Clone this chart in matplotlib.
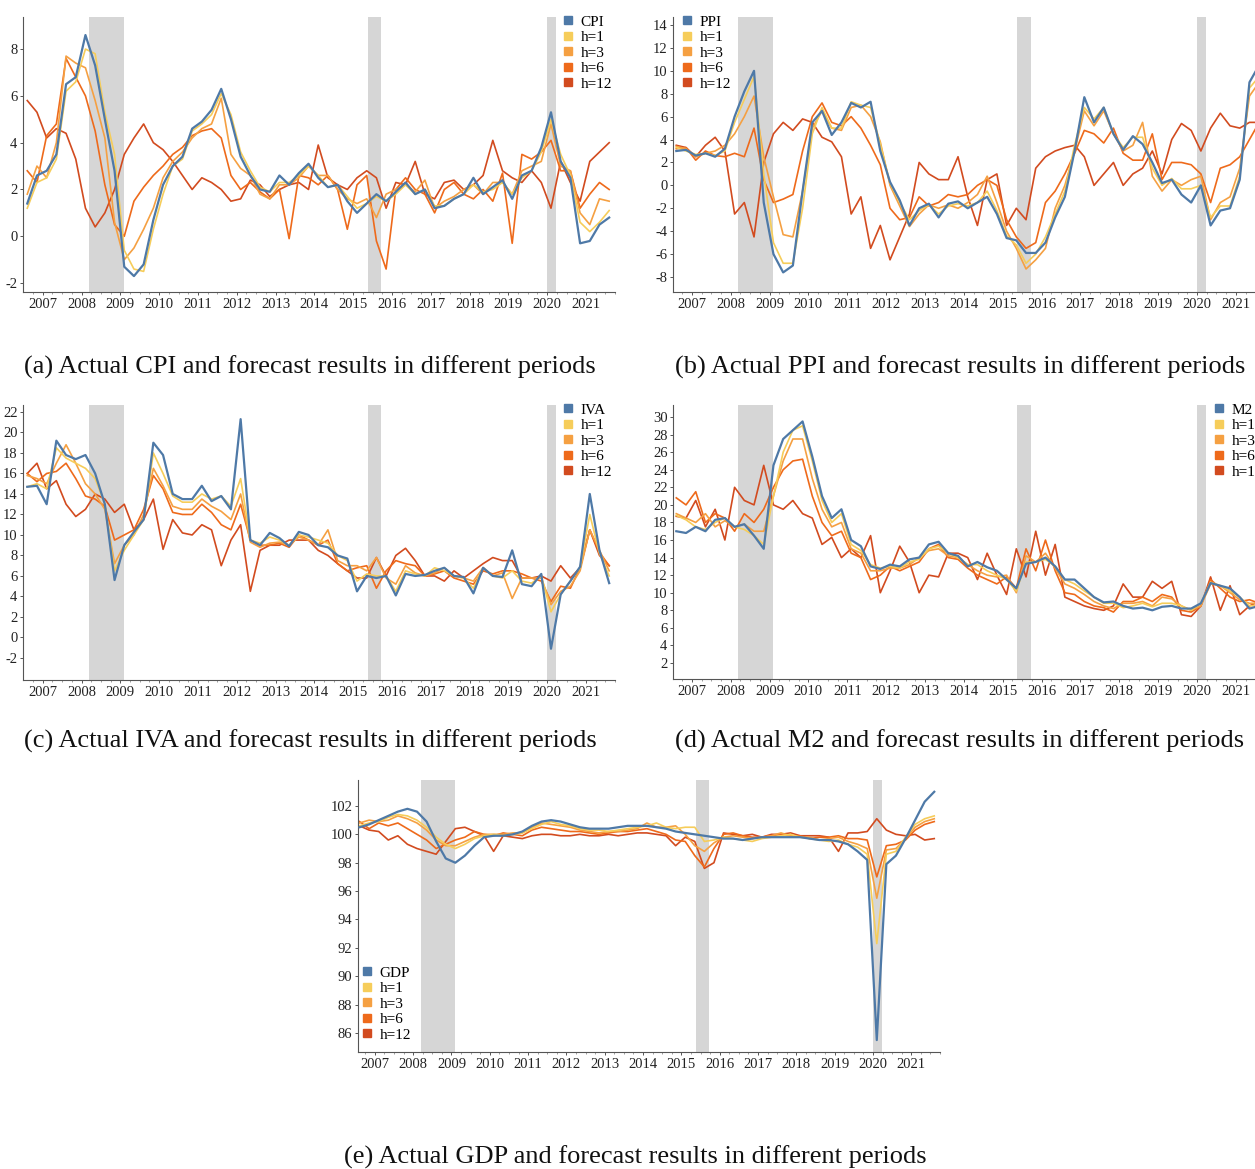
import matplotlib
matplotlib.use('Agg')
import matplotlib.pyplot as plt
from matplotlib.lines import Line2D
import numpy as np

plt.rcParams['font.family'] = ['Liberation Serif', 'DejaVu Serif']
plt.rcParams['axes.unicode_minus'] = False

W, H = 1255, 1169

# values every quarter: 2006.6, 2006.85, 2007.1, ... 2021.6
t = 2006.6 + 0.25 * np.arange(61)

horizons = ['h=1', 'h=3', 'h=6', 'h=12']
colors = ['#4e79a7', '#f6cd5a', '#f5a042', '#ee6a1b', '#d24b1f']
shades = [(2008.2, 2009.1), (2015.38, 2015.72), (2020.0, 2020.24)]

############------ CPI -----##############
cpi = [1.4, 2.6,
       2.8, 3.5, 6.5, 6.8,
       8.6, 7.3, 5.0, 2.8,
       -1.3, -1.7, -1.2, 0.7,
       2.2, 3.0, 3.4, 4.6,
       4.9, 5.4, 6.3, 5.0,
       3.4, 2.6, 2.0, 1.9,
       2.6, 2.2, 2.7, 3.1,
       2.5, 2.1, 2.2, 1.5,
       1.0, 1.4, 1.8, 1.5,
       1.9, 2.3, 1.8, 2.0,
       1.2, 1.3, 1.6, 1.8,
       2.5, 1.8, 2.1, 2.4,
       1.6, 2.6, 2.8, 3.8,
       5.3, 3.2, 2.5, -0.3,
       -0.2, 0.5, 0.8]
cpi_h1 = [1.2, 2.3,
          2.5, 3.3, 6.2, 6.6,
          8.0, 7.8, 5.3, 3.5,
          -0.6, -1.4, -1.5, 0.3,
          1.8, 3.0, 3.3, 4.5,
          4.8, 5.2, 6.1, 5.2,
          3.6, 2.8, 2.1, 1.9,
          2.3, 2.3, 2.6, 3.0,
          2.6, 2.1, 2.2, 1.7,
          1.2, 1.4, 1.7, 1.5,
          1.8, 2.2, 1.8, 2.0,
          1.3, 1.3, 1.6, 1.8,
          2.2, 1.9, 2.0, 2.3,
          1.8, 2.5, 2.8, 3.6,
          5.0, 3.5, 2.6, 0.6,
          0.2, 0.6, 1.1]
cpi_h3 = [1.8, 3.0,
          2.5, 4.0, 7.7, 7.4,
          7.2, 5.8, 4.2, 0.6,
          -1.0, -0.5, 0.3, 1.2,
          2.5, 3.2, 3.6, 4.2,
          4.6, 4.8, 5.9, 3.5,
          2.9, 2.6, 1.8, 1.6,
          2.2, 2.2, 2.5, 3.0,
          2.6, 2.6, 2.0, 1.6,
          1.4, 1.6, 0.8, 1.8,
          2.0, 2.2, 1.9, 2.4,
          1.2, 1.5, 1.7, 2.0,
          2.2, 1.8, 2.3, 2.3,
          1.8, 2.8, 3.0, 3.2,
          4.8, 3.0, 2.8, 1.0,
          0.5, 1.6, 1.5]
cpi_h6 = [2.8, 2.3,
          4.3, 4.8, 7.6, 6.8,
          6.0, 4.5, 2.2, 0.5,
          0.0, 1.5, 2.1, 2.6,
          3.0, 3.5, 3.8, 4.3,
          4.5, 4.6, 4.2, 2.6,
          2.0, 2.3, 1.9, 1.6,
          2.0, -0.1, 2.6, 2.5,
          2.2, 2.6, 2.0, 0.3,
          2.2, 2.6, -0.2, -1.4,
          2.0, 2.5, 2.0, 1.8,
          1.0, 2.0, 2.3, 1.8,
          1.6, 2.0, 1.5, 2.7,
          -0.3, 3.5, 3.3, 3.6,
          4.1, 2.8, 2.8, 1.2,
          1.8, 2.3, 2.0]
cpi_h12 = [5.8, 5.3,
           4.2, 4.6, 4.4, 3.3,
           1.2, 0.4, 1.0, 2.0,
           3.5, 4.2, 4.8, 4.0,
           3.7, 3.2, 2.6, 2.0,
           2.5, 2.3, 2.0, 1.5,
           1.6, 2.4, 2.2, 1.7,
           2.0, 2.2, 2.3, 2.0,
           3.9, 2.5, 2.2, 2.0,
           2.5, 2.8, 2.5, 1.2,
           2.3, 2.2, 3.2, 1.8,
           1.6, 2.3, 2.4, 2.0,
           2.2, 2.6, 4.1, 2.8,
           2.5, 2.3, 2.8, 2.3,
           1.2, 3.2, 2.3, 1.5,
           3.2, 3.6, 4.0]

############------ PPI -----##############
ppi = [3.0, 3.1,
       2.6, 2.8, 2.5, 3.2,
       6.0, 8.2, 10.0, -1.5,
       -6.0, -7.6, -7.0, -0.5,
       5.5, 6.5, 4.4, 5.5,
       7.2, 6.8, 7.3, 3.0,
       0.3, -1.3, -3.5, -2.0,
       -1.6, -2.8, -1.6, -1.4,
       -2.0, -1.5, -1.0, -2.5,
       -4.6, -4.8, -5.9, -5.9,
       -5.0, -2.8, -1.0, 3.0,
       7.7, 5.5, 6.8, 4.5,
       3.1, 4.3, 3.6, 2.0,
       0.2, 0.5, -0.8, -1.5,
       0.0, -3.5, -2.2, -2.0,
       0.5, 9.0, 10.5]
ppi_h1 = [3.3, 3.0,
          2.7, 2.8, 2.6, 3.0,
          5.5, 7.5, 9.5, 1.0,
          -5.0, -6.8, -6.8, -2.0,
          4.5, 6.8, 5.0, 5.0,
          7.3, 7.0, 6.8, 3.6,
          0.2, -1.5, -3.0, -2.2,
          -1.7, -2.5, -1.8, -1.6,
          -1.8, -1.5, -0.5, -2.2,
          -4.4, -5.2, -6.8, -6.0,
          -4.5, -2.5, -0.5, 3.5,
          6.8, 5.8, 6.8, 4.5,
          3.3, 4.2, 4.2, 1.5,
          0.0, 0.6, -0.3, -0.3,
          0.0, -2.8, -1.8, -1.8,
          0.8, 8.5, 9.5]
ppi_h3 = [3.4, 3.2,
          2.5, 2.8, 3.0, 3.5,
          4.5, 6.0, 7.8, 2.5,
          -1.0, -4.3, -4.5, -0.5,
          5.0, 6.5, 5.0, 4.8,
          6.8, 7.0, 6.0, 3.8,
          0.0, -1.8, -3.6, -2.5,
          -1.7, -2.0, -1.7, -2.0,
          -1.5, -0.8, 0.8, -1.5,
          -4.0, -5.5, -7.3, -6.5,
          -5.5, -2.0, 0.0, 3.0,
          6.5, 5.2, 6.5, 4.5,
          3.0, 3.5, 5.5, 0.8,
          -0.5, 0.5, 0.0, 0.5,
          0.8, -3.0, -1.5, -1.0,
          1.5, 7.8, 9.0]
ppi_h6 = [3.2, 3.3,
          2.2, 3.0, 2.6, 2.5,
          2.8, 2.5, 5.0, 0.5,
          -1.5, -1.2, -0.8, 3.0,
          6.0, 7.2, 5.5, 5.2,
          6.0, 5.0, 3.5, 1.8,
          -2.0, -3.0, -2.8, -1.0,
          -1.8, -1.5, -0.8, -1.0,
          -0.8, 0.0, 0.5, 0.0,
          -3.0, -4.5, -5.5, -5.0,
          -1.5, -0.5, 1.0, 2.8,
          4.8, 4.5, 3.7, 5.0,
          2.8, 2.2, 2.2, 4.5,
          0.5, 2.0, 2.0, 1.8,
          1.0, -1.5, 1.5, 1.8,
          2.5, 4.0, 5.5]
ppi_h12 = [3.5, 3.3,
           2.5, 3.5, 4.2, 3.0,
           -2.5, -1.5, -4.5, 2.0,
           4.5, 5.5, 4.8, 5.8,
           5.5, 4.2, 3.8, 2.5,
           -2.5, -1.0, -5.5, -3.5,
           -6.5, -4.5, -2.5, 2.0,
           1.0, 0.5, 0.5, 2.5,
           -1.0, -3.5, 0.5, 1.0,
           -3.5, -2.0, -3.0, 1.5,
           2.5, 3.0, 3.3, 3.5,
           2.5, 0.0, 1.0, 2.0,
           0.0, 1.0, 1.5, 3.0,
           1.0, 4.0, 5.4, 4.8,
           3.0, 5.0, 6.3, 5.2,
           5.0, 5.5, 5.5]

############------ IVA -----##############
iva = [14.7, 14.8,
       13.0, 19.2, 17.8, 17.4,
       17.8, 16.0, 13.0, 5.6,
       9.0, 10.3, 11.5, 19.0,
       17.8, 14.0, 13.5, 13.5,
       14.8, 13.3, 13.8, 12.5,
       21.3, 9.5, 9.0, 10.2,
       9.7, 8.9, 10.3, 10.0,
       9.0, 8.8, 8.0, 7.7,
       4.5, 6.0, 5.8, 6.0,
       4.1, 6.2, 6.0, 6.1,
       6.5, 6.8, 6.0, 5.9,
       4.3, 6.8, 6.0, 5.9,
       8.5, 5.2, 5.0, 6.2,
       -1.1, 4.2, 5.5, 6.9,
       14.0, 8.5, 5.3]
iva_h1 = [14.7, 15.0,
          14.5, 18.5, 17.5, 17.0,
          16.5, 15.5, 13.0, 6.5,
          8.5, 10.0, 11.5, 18.0,
          16.0, 13.8, 13.2, 13.2,
          14.0, 13.5, 13.8, 12.8,
          15.5, 9.5, 9.2, 9.8,
          9.5, 9.0, 10.0, 9.8,
          9.5, 9.2, 8.0, 7.5,
          5.5, 6.2, 6.0, 6.0,
          4.5, 6.5, 6.2, 6.0,
          6.8, 6.5, 6.0, 5.8,
          4.8, 6.8, 6.0, 5.8,
          6.5, 5.5, 5.3, 6.0,
          2.5, 4.2, 5.5, 6.8,
          12.0, 8.2, 6.0]
iva_h3 = [15.8, 15.5,
          15.0, 17.0, 18.8, 17.0,
          15.0, 14.0, 12.5, 7.2,
          9.0, 10.0, 12.0, 16.5,
          14.8, 12.8, 12.5, 12.5,
          13.5, 12.8, 12.3, 11.5,
          14.0, 9.3, 8.8, 9.2,
          9.3, 9.0, 9.8, 9.5,
          9.0, 10.5, 7.5, 7.0,
          7.0, 6.5, 7.8, 5.8,
          5.2, 7.0, 6.3, 6.0,
          6.3, 6.8, 6.0, 5.8,
          5.5, 6.8, 6.0, 6.3,
          3.8, 5.8, 5.8, 5.8,
          3.2, 4.5, 5.0, 6.5,
          10.5, 8.5, 6.5]
iva_h6 = [16.0, 15.2,
          16.0, 16.2, 17.0, 15.5,
          13.8, 13.5, 12.8, 9.5,
          10.0, 10.5, 12.5, 15.8,
          14.5, 12.2, 12.0, 12.0,
          13.0, 12.2, 11.0, 10.5,
          13.0, 9.5, 9.0, 9.0,
          9.2, 8.8, 10.0, 9.5,
          9.0, 9.5, 7.2, 6.5,
          6.8, 7.0, 4.8, 6.5,
          7.5, 7.2, 7.0, 6.0,
          6.2, 6.5, 5.8, 5.5,
          5.2, 6.5, 6.2, 6.5,
          6.5, 6.2, 5.8, 5.5,
          3.5, 5.0, 4.8, 6.8,
          10.5, 8.3, 7.0]
iva_h12 = [16.0, 17.0,
           14.5, 15.3, 13.0, 11.8,
           12.5, 14.0, 13.5, 12.2,
           13.0, 10.5, 11.5, 13.5,
           8.6, 11.5, 10.2, 10.0,
           11.0, 10.5, 7.0, 9.5,
           11.0, 4.5, 8.5, 9.0,
           9.0, 9.5, 9.5, 9.5,
           8.5, 8.0, 7.2, 6.5,
           5.8, 5.8, 7.8, 6.0,
           8.0, 8.7, 7.5, 6.0,
           6.0, 5.5, 6.5, 5.8,
           6.5, 7.2, 7.8, 7.5,
           7.5, 5.8, 5.8, 6.0,
           5.5, 7.0, 5.8, 6.8,
           10.5, 8.0, 7.0]

############------ M2 -----##############
m2 = [17.0, 16.8,
      17.5, 17.0, 18.3, 18.5,
      17.5, 17.8, 16.5, 15.0,
      24.5, 27.5, 28.5, 29.5,
      25.5, 21.0, 18.5, 19.5,
      16.0, 15.3, 13.0, 12.7,
      13.2, 13.0, 13.8, 14.0,
      15.5, 15.8, 14.5, 14.2,
      13.0, 13.5, 12.9, 12.5,
      11.5, 10.5, 13.3, 13.5,
      14.0, 13.0, 11.5, 11.5,
      10.5, 9.5, 8.9, 9.0,
      8.5, 8.2, 8.3, 8.0,
      8.4, 8.5, 8.2, 8.2,
      8.8, 11.1, 10.8, 10.5,
      9.5, 8.2, 8.5]
m2_h1 = [18.8, 18.3,
         17.5, 17.2, 18.0, 18.5,
         17.5, 17.2, 16.5, 15.5,
         21.0, 26.0, 28.5, 29.0,
         25.0, 20.5, 18.0, 19.0,
         15.5, 14.8, 13.2, 12.8,
         13.0, 12.8, 13.5, 13.8,
         15.0, 15.3, 14.5, 14.0,
         13.2, 13.2, 12.5, 12.0,
         11.5, 10.2, 13.5, 13.5,
         13.8, 13.0, 11.5, 11.0,
         10.2, 9.5, 8.8, 8.8,
         8.3, 8.5, 8.8, 8.4,
         8.8, 8.8, 8.5, 8.0,
         8.8, 11.2, 10.8, 10.2,
         9.5, 8.5, 8.6]
m2_h3 = [19.0, 18.5,
         18.0, 19.0, 17.5, 18.2,
         17.5, 17.8, 17.0, 17.0,
         21.0, 25.0, 27.5, 27.5,
         23.0, 19.5, 17.5, 18.0,
         15.0, 14.5, 12.5, 12.5,
         12.8, 12.8, 13.2, 14.0,
         14.8, 15.0, 14.2, 14.0,
         13.2, 12.5, 12.0, 11.8,
         12.0, 10.0, 14.2, 13.5,
         14.5, 12.8, 11.0, 10.5,
         9.8, 9.0, 8.5, 8.2,
         8.8, 8.8, 9.0, 8.5,
         9.5, 9.3, 8.5, 8.0,
         8.5, 11.0, 10.8, 10.0,
         9.2, 8.8, 8.8]
m2_h6 = [20.8, 20.0,
         21.5, 18.0, 19.0, 18.5,
         17.0, 19.0, 18.0, 19.5,
         22.0, 24.0, 25.0, 25.2,
         21.0, 18.0, 16.5, 17.0,
         14.5, 14.0, 11.5, 12.0,
         13.0, 12.5, 13.0, 13.5,
         15.0, 15.5, 14.0, 13.8,
         12.8, 12.0, 11.5, 11.0,
         11.8, 10.5, 15.0, 12.5,
         16.0, 12.5, 10.0, 9.8,
         9.0, 8.5, 8.3, 7.8,
         9.0, 9.0, 9.5, 9.0,
         9.8, 9.5, 8.0, 7.8,
         8.5, 11.5, 10.5, 9.5,
         9.0, 9.2, 8.8]
m2_h12 = [18.7, 18.5,
          20.5, 17.5, 19.5, 16.0,
          22.0, 20.5, 20.0, 24.5,
          20.0, 19.5, 20.5, 19.0,
          18.5, 15.5, 16.3, 14.0,
          15.0, 14.0, 16.5, 10.0,
          12.5, 15.3, 13.5, 10.0,
          12.0, 11.8, 14.5, 14.5,
          14.0, 11.5, 14.5, 12.0,
          9.8, 15.0, 11.8, 17.0,
          12.0, 15.5, 9.5, 9.0,
          8.5, 8.2, 8.0, 8.5,
          11.0, 9.5, 9.5, 11.3,
          10.5, 11.3, 7.5, 7.3,
          8.5, 11.8, 8.0, 10.8,
          7.5, 8.5, 9.0]

############------ GDP -----##############
gdp = [100.5, 100.7,
       101.0, 101.3, 101.6, 101.8,
       101.6, 100.9, 99.5, 98.3,
       98.0, 98.5, 99.2, 99.8,
       99.9, 99.9, 100.0, 100.2,
       100.6, 100.9, 101.0, 100.9,
       100.7, 100.5, 100.4, 100.4,
       100.4, 100.5, 100.6, 100.6,
       100.6, 100.5, 100.4, 100.2,
       100.1, 100.0, 99.9, 99.8,
       99.7, 99.7, 99.6, 99.7,
       99.8, 99.8, 99.8, 99.8,
       99.8, 99.7, 99.6, 99.6,
       99.5, 99.3, 98.8, 98.2,
       85.5, 97.9, 98.5, 99.7,
       101.0, 102.3, 103.0]
gdp_h1 = [100.6, 100.8,
          100.9, 101.2, 101.4, 101.3,
          101.0, 100.5, 99.8, 99.3,
          99.0, 99.3, 99.7, 99.9,
          100.0, 99.9, 100.0, 100.1,
          100.4, 100.7, 100.9, 100.7,
          100.6, 100.4, 100.3, 100.3,
          100.2, 100.3, 100.4, 100.5,
          100.6, 100.8, 100.5, 100.4,
          100.5, 100.5, 99.5, 99.6,
          99.8, 99.7, 99.6, 99.5,
          99.7, 99.8, 99.9, 100.0,
          99.8, 99.7, 99.6, 99.5,
          99.6, 99.3, 99.1, 98.6,
          92.3, 98.6, 98.8, 99.8,
          100.7, 101.1, 101.3]
gdp_h3 = [100.8, 101.0,
          100.9, 101.0, 101.3, 101.1,
          100.8, 100.3, 99.6, 99.2,
          99.2, 99.5, 99.8, 100.0,
          100.0, 100.0, 100.1, 100.1,
          100.5, 100.8, 100.7, 100.6,
          100.5, 100.3, 100.2, 100.1,
          100.2, 100.2, 100.3, 100.4,
          100.8, 100.5, 100.5, 100.6,
          100.0, 99.2, 98.8, 99.4,
          99.8, 99.9, 99.8, 99.7,
          99.8, 99.9, 100.1, 99.9,
          99.8, 99.8, 99.6, 99.7,
          99.8, 99.5, 99.3, 99.0,
          95.5, 98.9, 99.0, 99.7,
          100.5, 100.9, 101.1]
gdp_h6 = [100.9, 100.4,
          100.8, 100.6, 100.8, 100.4,
          100.0, 99.6, 99.0, 99.3,
          99.6, 99.8, 100.2, 100.0,
          99.9, 100.1, 100.0, 99.9,
          100.3, 100.5, 100.4, 100.3,
          100.2, 100.2, 100.1, 100.0,
          100.1, 100.2, 100.2, 100.3,
          100.4, 100.2, 100.0, 99.6,
          99.5, 98.5, 97.7, 99.0,
          100.0, 100.1, 99.9, 99.8,
          99.8, 99.9, 100.0, 99.9,
          99.9, 99.7, 99.8, 99.8,
          99.9, 99.7, 99.7, 99.6,
          97.0, 99.2, 99.3, 99.6,
          100.3, 100.7, 100.9]
gdp_h12 = [100.6, 100.3,
           100.2, 99.6, 99.9, 99.3,
           99.0, 98.8, 98.6, 99.5,
           100.4, 100.5, 100.2, 99.9,
           98.8, 99.9, 99.8, 99.7,
           99.9, 100.0, 100.0, 99.9,
           99.9, 100.0, 99.9, 99.9,
           100.0, 99.9, 100.0, 100.1,
           100.1, 100.0, 99.9, 99.2,
           99.8, 99.5, 97.6, 98.0,
           100.1, 100.0, 99.9, 100.0,
           99.8, 100.0, 100.0, 100.1,
           99.9, 99.9, 99.9, 99.8,
           98.8, 100.1, 100.1, 100.2,
           101.1, 100.3, 100.0, 99.9,
           100.0, 99.6, 99.7]
##########################################

fig = plt.figure(figsize=(W / 100, H / 100), dpi=100)


def panel(box, xlim, ylim, yticks, series, name, leg_xy):
    # box = left, top, right, bottom in pixels
    l, tp, r, b = box
    ax = fig.add_axes([l / W, 1 - b / H, (r - l) / W, (b - tp) / H])
    for a0, a1 in shades:
        ax.axvspan(a0, a1, color='#d6d6d6', lw=0, zorder=0)
    for i in range(len(series) - 1, -1, -1):
        ax.plot(t, series[i], color=colors[i], lw=1.6 if i == 0 else 1.2,
                zorder=3 if i == 0 else 2)
    ax.set_xlim(*xlim)
    ax.set_ylim(*ylim)
    ax.set_xticks(range(2007, 2022))
    ax.set_xticks(np.arange(2006.75, 2021.8, 0.25), minor=True)
    ax.set_yticks(yticks)
    for s in ['top', 'right']:
        ax.spines[s].set_visible(False)
    for s in ['left', 'bottom']:
        ax.spines[s].set_color('#555555')
        ax.spines[s].set_linewidth(0.8)
    ax.tick_params(axis='both', which='major', labelsize=10.5, length=2.5,
                   width=0.7, pad=1.5, color='#555555', labelcolor='#222222')
    ax.tick_params(axis='x', which='minor', length=1.5, width=0.5, color='#777777')
    handles = [Line2D([], [], marker='s', ls='', color=c, markersize=6) for c in colors]
    ax.legend(handles, [name] + horizons, loc='upper left',
              bbox_to_anchor=(leg_xy[0] / W, 1 - leg_xy[1] / H),
              bbox_transform=fig.transFigure, frameon=False, fontsize=11,
              handlelength=0.8, handletextpad=0.4, labelspacing=0.12,
              borderpad=0, borderaxespad=0)
    return ax


panel((23, 17, 615, 292), (2006.49, 2021.61), (-2.38, 9.37), range(-2, 9, 2),
      [cpi, cpi_h1, cpi_h3, cpi_h6, cpi_h12], 'CPI', (562, 15))
panel((673, 17, 1265, 292), (2006.515, 2021.64), (-9.31, 14.7), range(-8, 15, 2),
      [ppi, ppi_h1, ppi_h3, ppi_h6, ppi_h12], 'PPI', (681, 15))
panel((23, 405, 615, 680), (2006.49, 2021.61), (-4.15, 22.68), range(-2, 23, 2),
      [iva, iva_h1, iva_h3, iva_h6, iva_h12], 'IVA', (562, 403))
panel((673, 405, 1265, 679), (2006.515, 2021.64), (0.18, 31.37), range(2, 31, 2),
      [m2, m2_h1, m2_h3, m2_h6, m2_h12], 'M2', (1213, 403))
panel((358, 780, 940, 1052), (2006.56, 2021.65), (84.66, 103.83), range(86, 103, 2),
      [gdp, gdp_h1, gdp_h3, gdp_h6, gdp_h12], 'GDP', (361, 966))

captions = ['(a) Actual CPI and forecast results in different periods',
            '(b) Actual PPI and forecast results in different periods',
            '(c) Actual IVA and forecast results in different periods',
            '(d) Actual M2 and forecast results in different periods',
            '(e) Actual GDP and forecast results in different periods']
cap_xy = [(310, 367), (960, 367), (310, 741), (960, 741), (635, 1157)]
for txt, (cx, cy) in zip(captions, cap_xy):
    fig.text(cx / W, 1 - cy / H, txt, ha='center', va='center', fontsize=19, color='#111111')

plt.savefig('out.png', dpi=100)
